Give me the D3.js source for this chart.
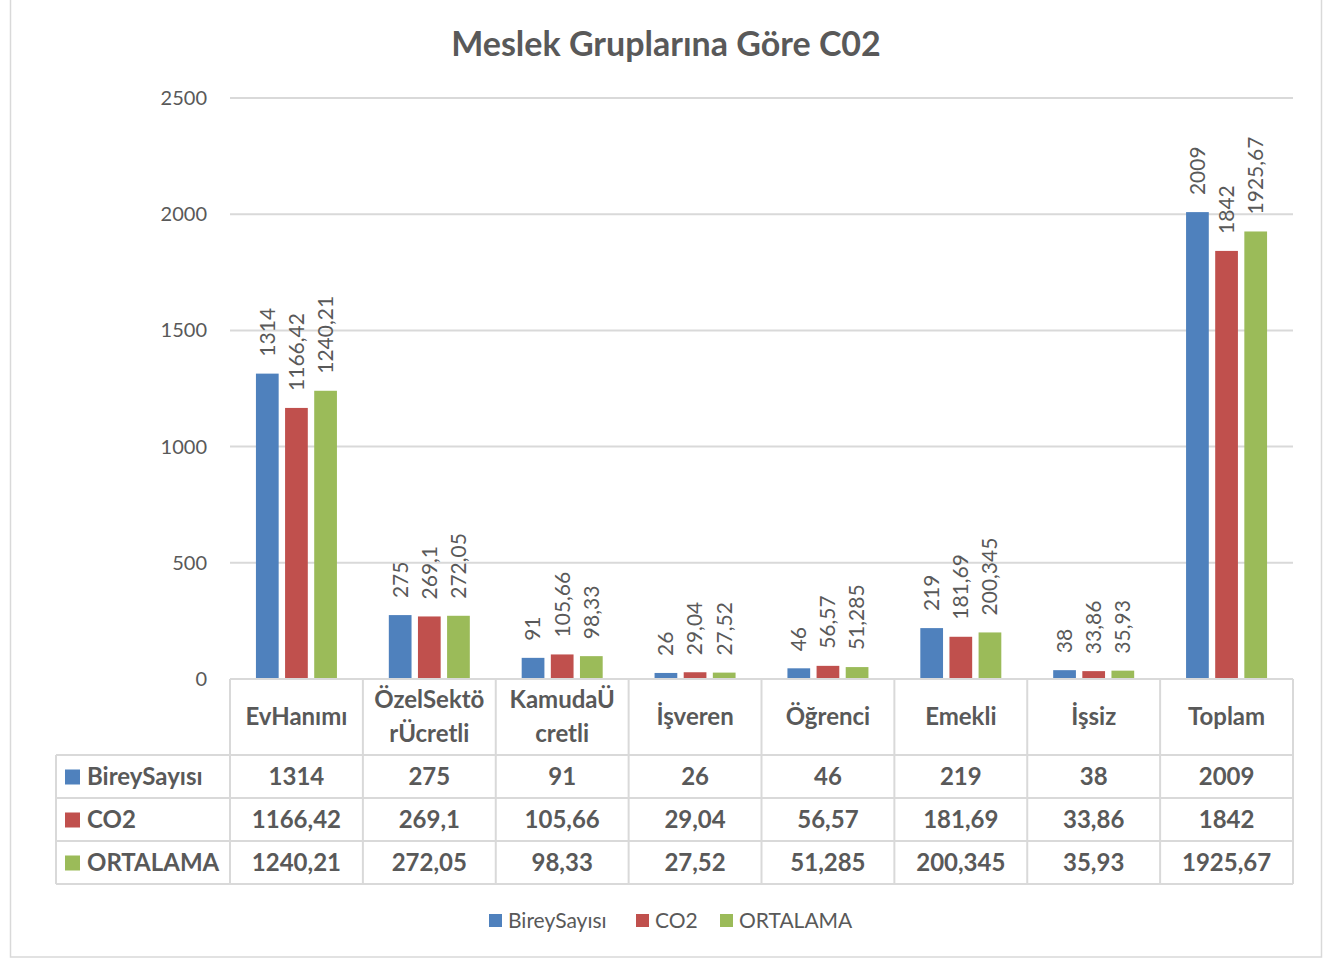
<!DOCTYPE html>
<html>
<head>
<meta charset="utf-8">
<script src="https://cdn.jsdelivr.net/npm/d3@7"></script>
<style>
  body { margin: 0; background: #fff; }
  svg text { font-family: Lato, "Open Sans", sans-serif; fill: #595959; }
</style>
</head>
<body>
<div id="chart"></div>
<script>
'use strict';

const categories = ["EvHanımı", "ÖzelSektörÜcretli", "KamudaÜcretli", "İşveren", "Öğrenci", "Emekli", "İşsiz", "Toplam"];
const catLines = [["EvHanımı"], ["ÖzelSektö", "rÜcretli"], ["KamudaÜ", "cretli"], ["İşveren"], ["Öğrenci"], ["Emekli"], ["İşsiz"], ["Toplam"]];
const seriesNames = ["BireySayısı", "CO2", "ORTALAMA"];
const bireySayisi = [1314, 275, 91, 26, 46, 219, 38, 2009];
const co2 = [1166.42, 269.1, 105.66, 29.04, 56.57, 181.69, 33.86, 1842];
const ortalama = [1240.21, 272.05, 98.33, 27.52, 51.285, 200.345, 35.93, 1925.67];
const yTicks = [0, 500, 1000, 1500, 2000, 2500];
const colors = ["#4f81bd", "#c0504d", "#9bbb59"];

(function() {
const series = [bireySayisi, co2, ortalama];
const fmt = v => String(v).replace('.', ',');

const W = 1329, H = 959;
const plotL = 230, plotR = 1293, plotT = 98, base = 679;
const rowH = 43, headH = 76, tableLeft = 56;

const svg = d3.select('#chart').append('svg')
  .attr('width', W).attr('height', H);

// chart border
svg.append('rect')
  .attr('x', 10.5).attr('y', -2)
  .attr('width', 1311).attr('height', 959)
  .style('fill', 'none').style('stroke', '#d9d9d9').style('stroke-width', 1.5);

svg.append('text')
  .attr('x', 666).attr('y', 56)
  .attr('text-anchor', 'middle')
  .style('font-size', '34px').style('font-weight', 'bold')
  .text('Meslek Gruplarına Göre C02');

const x = d3.scaleBand().domain(categories).range([plotL, plotR]);
const xs = d3.scaleBand().domain(d3.range(3)).range([0, 81]).paddingInner(0.22);
const y = d3.scaleLinear().domain([0, 2500]).range([base, plotT]);

// gridlines
svg.append('g').selectAll('line')
  .data(yTicks.slice(1))
  .enter().append('line')
  .attr('x1', plotL).attr('x2', plotR)
  .attr('y1', d => y(d)).attr('y2', d => y(d))
  .style('stroke', '#d9d9d9').style('stroke-width', 2);

// y labels
svg.append('g').selectAll('text')
  .data(yTicks)
  .enter().append('text')
  .attr('x', 207).attr('y', d => y(d))
  .attr('dy', '0.35em')
  .attr('text-anchor', 'end')
  .style('font-size', '20px')
  .text(d => d);

// bars
const groups = svg.append('g').selectAll('g')
  .data(categories)
  .enter().append('g')
  .attr('transform', d => `translate(${x(d) + (x.bandwidth() - 81) / 2},0)`);

groups.each(function(c, i) {
  const g = d3.select(this);
  series.forEach((s, k) => {
    g.append('rect')
      .attr('x', xs(k)).attr('y', y(s[i]))
      .attr('width', xs.bandwidth()).attr('height', base - y(s[i]))
      .style('fill', colors[k]);
    const cx = xs(k) + xs.bandwidth() / 2;
    const ty = y(s[i]) - 17;
    g.append('text')
      .attr('transform', `translate(${cx},${ty}) rotate(-90)`)
      .attr('dy', '0.35em')
      .style('font-size', '21px')
      .text(fmt(s[i]));
  });
});

// data table
const tbl = svg.append('g');
const lineStyle = sel => sel.style('stroke', '#d9d9d9').style('stroke-width', 2);
const tableBottom = base + headH + rowH * 3;

// horizontal lines
tbl.append('line').attr('x1', plotL).attr('x2', plotR).attr('y1', base).attr('y2', base).call(lineStyle);
d3.range(4).forEach(r => {
  const yy = base + headH + r * rowH;
  tbl.append('line').attr('x1', tableLeft).attr('x2', plotR).attr('y1', yy).attr('y2', yy).call(lineStyle);
});
// vertical lines
categories.forEach(c => {
  tbl.append('line').attr('x1', x(c)).attr('x2', x(c)).attr('y1', base).attr('y2', tableBottom).call(lineStyle);
});
tbl.append('line').attr('x1', plotR).attr('x2', plotR).attr('y1', base).attr('y2', tableBottom).call(lineStyle);
tbl.append('line').attr('x1', tableLeft).attr('x2', tableLeft).attr('y1', base + headH).attr('y2', tableBottom).call(lineStyle);

// header
categories.forEach((c, i) => {
  const lines = catLines[i];
  const cy = base + headH / 2;
  lines.forEach((ln, j) => {
    tbl.append('text')
      .attr('x', x(c) + x.bandwidth() / 2)
      .attr('y', cy + (j - (lines.length - 1) / 2) * 34)
      .attr('dy', '0.35em')
      .attr('text-anchor', 'middle')
      .style('font-size', '24px').style('font-weight', 'bold')
      .text(ln);
  });
});

// rows
series.forEach((s, k) => {
  const cy = base + headH + k * rowH + rowH / 2;
  tbl.append('rect')
    .attr('x', 65).attr('y', cy - 7)
    .attr('width', 15).attr('height', 15)
    .style('fill', colors[k]);
  tbl.append('text')
    .attr('x', 87).attr('y', cy).attr('dy', '0.35em')
    .style('font-size', '24px').style('font-weight', 'bold')
    .text(seriesNames[k]);
  categories.forEach((c, i) => {
    tbl.append('text')
      .attr('x', x(c) + x.bandwidth() / 2).attr('y', cy).attr('dy', '0.35em')
      .attr('text-anchor', 'middle')
      .style('font-size', '24px').style('font-weight', 'bold')
      .text(fmt(s[i]));
  });
});

// legend
const legendX = [489, 636, 720];
const legend = svg.append('g');
seriesNames.forEach((n, k) => {
  legend.append('rect')
    .attr('x', legendX[k]).attr('y', 914)
    .attr('width', 13).attr('height', 13)
    .style('fill', colors[k]);
  legend.append('text')
    .attr('x', legendX[k] + 19).attr('y', 921).attr('dy', '0.35em')
    .style('font-size', '21px')
    .text(n);
});
})();
</script>
</body>
</html>
